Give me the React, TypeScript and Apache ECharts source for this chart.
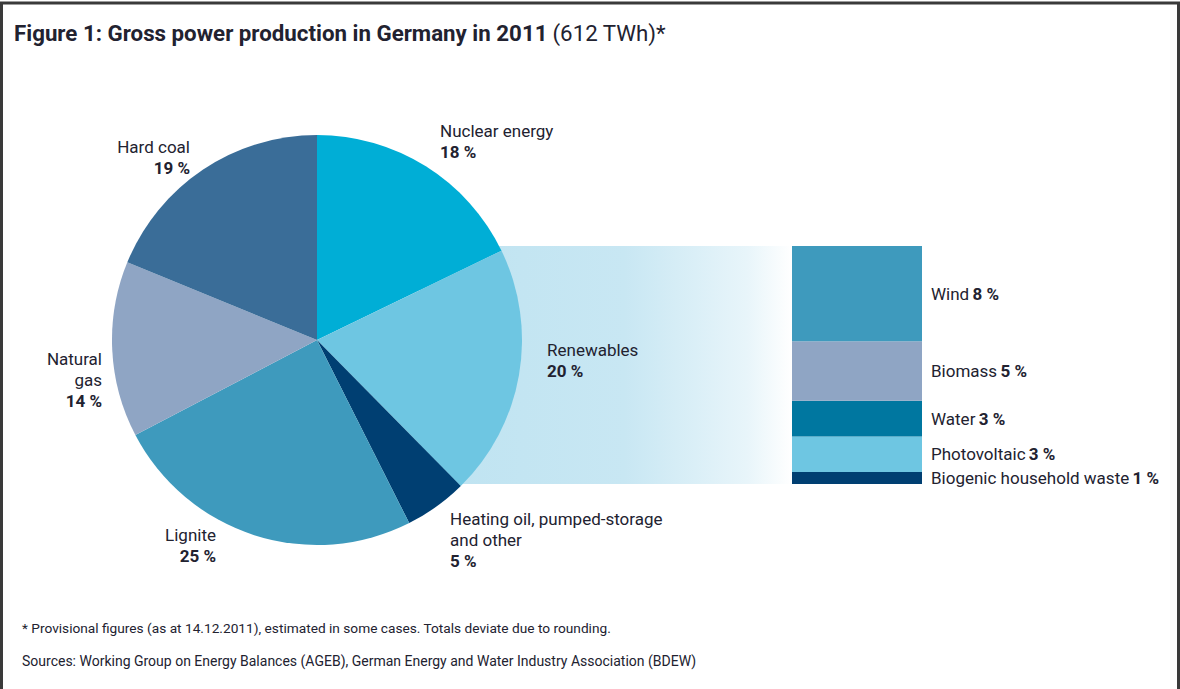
import React, { useEffect, useRef } from "react";
import * as echarts from "echarts";

// ---- data ----
const sources = [
  "Nuclear energy",
  "Renewables",
  "Heating oil, pumped-storage and other",
  "Lignite",
  "Natural gas",
  "Hard coal",
];
const sourceShares = [18, 20, 5, 25, 14, 19];
const sourceLabelLines = [
  ["Nuclear energy"],
  ["Renewables"],
  ["Heating oil, pumped-storage", "and other"],
  ["Lignite"],
  ["Natural", "gas"],
  ["Hard coal"],
];
const renewables = ["Wind", "Biomass", "Water", "Photovoltaic", "Biogenic household waste"];
const renewableShares = [8, 5, 3, 3, 1];

const titleBold = "Figure 1: Gross power production in Germany in 2011";
const titleNormal = "(612 TWh)*";
const footnote = "* Provisional figures (as at 14.12.2011), estimated in some cases. Totals deviate due to rounding.";
const sourcesNote = "Sources: Working Group on Energy Balances (AGEB), German Energy and Water Industry Association (BDEW)";

// ---- styles ----
const sourceColors = ["#00AED6", "#6EC6E2", "#003F72", "#3E9ABD", "#8FA5C4", "#3A6D98"];
const renewableColors = ["#3E9ABD", "#8FA5C4", "#0077A0", "#6EC6E2", "#003F72"];
const pieLabelAnchors = [
  { x: 440, y: 141, align: "left" },
  { x: 547, y: 360, align: "left" },
  { x: 450, y: 540, align: "left" },
  { x: 216, y: 545, align: "right" },
  { x: 102, y: 380, align: "right" },
  { x: 190, y: 157, align: "right" },
];
const FONT = "Roboto, 'Noto Sans', sans-serif";
const TEXT = "#222230";

export default function App() {
  const ref = useRef<HTMLDivElement>(null);
  useEffect(() => {
    document.body.style.margin = "0";
    const chart = echarts.init(ref.current!, undefined, { renderer: "svg" });
    const richLabel = {
      n: { fontFamily: FONT, fontSize: 17, fontWeight: "normal", color: TEXT, lineHeight: 21 },
      b: { fontFamily: FONT, fontSize: 17, fontWeight: "bold", color: TEXT, lineHeight: 21 },
    };
    const barSeries: any[] = [];
    for (let i = renewables.length - 1; i >= 0; i--) {
      barSeries.push({
        type: "bar",
        name: renewables[i],
        stack: "ren",
        data: [renewableShares[i]],
        barWidth: "100%",
        itemStyle: { color: renewableColors[i] },
        label: {
          show: true,
          position: "right",
          distance: 9,
          formatter: () => `{n|${renewables[i]}} {b|${renewableShares[i]} %}`,
          rich: richLabel,
        },
        silent: true,
      });
    }
    chart.setOption({
      animation: false,
      backgroundColor: "#ffffff",
      title: {
        text: `{b|${titleBold}} {n|${titleNormal}}`,
        left: 9,
        top: 17,
        textStyle: {
          rich: {
            b: { fontFamily: FONT, fontSize: 22.3, fontWeight: "bold", color: TEXT },
            n: { fontFamily: FONT, fontSize: 22.3, fontWeight: "normal", color: TEXT },
          },
        },
      },
      grid: { left: 792, top: 246, width: 130, height: 238, containLabel: false },
      xAxis: { type: "category", data: ["Renewables"], show: false },
      yAxis: { type: "value", min: 0, max: 20, show: false },
      graphic: [
        {
          type: "rect",
          z: -10,
          silent: true,
          shape: { x: 420, y: 246, width: 372, height: 238 },
          style: {
            fill: {
              type: "linear",
              x: 0,
              y: 0,
              x2: 1,
              y2: 0,
              colorStops: [
                { offset: 0, color: "#BEE3F1" },
                { offset: 0.55, color: "#C8E7F3" },
                { offset: 0.88, color: "#E8F5FA" },
                { offset: 1, color: "#FFFFFF" },
              ],
            },
          },
        },
        {
          type: "rect",
          silent: true,
          shape: { x: 1.5, y: 3, width: 1177, height: 700 },
          style: { fill: "none", stroke: "#3a3a3a", lineWidth: 3 },
        },
        {
          type: "text",
          silent: true,
          x: 22,
          y: 628,
          style: { text: footnote, font: `13.7px ${FONT}`, fill: TEXT, verticalAlign: "middle" },
        },
        {
          type: "text",
          silent: true,
          x: 22,
          y: 661,
          style: { text: sourcesNote, font: `14px ${FONT}`, fill: TEXT, verticalAlign: "middle" },
        },
      ],
      series: [
        {
          type: "pie",
          center: [317, 340],
          radius: 205,
          startAngle: 90,
          clockwise: true,
          avoidLabelOverlap: false,
          silent: true,
          data: sources.map((s, i) => ({
            name: s,
            value: sourceShares[i],
            itemStyle: { color: sourceColors[i] },
          })),
          label: {
            show: true,
            position: "outside",
            formatter: (p: any) =>
              sourceLabelLines[p.dataIndex].map((l) => `{n|${l}}`).join("\n") +
              `\n{b|${sourceShares[p.dataIndex]} %}`,
            rich: richLabel,
          },
          labelLine: { show: false },
          labelLayout: (p: any) => {
            const a = pieLabelAnchors[p.dataIndex];
            return { x: a.x, y: a.y, align: a.align, verticalAlign: "middle" };
          },
        },
        ...barSeries,
      ],
    });
    return () => chart.dispose();
  }, []);
  return <div ref={ref} style={{ width: 1180, height: 689 }} />;
}
